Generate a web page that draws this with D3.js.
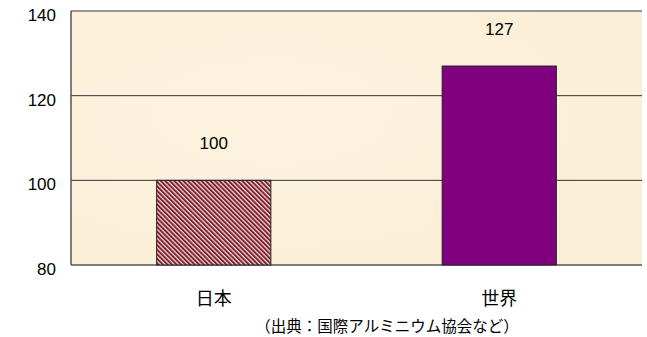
<!DOCTYPE html>
<html>
<head>
<meta charset="utf-8">
<script src="https://cdn.jsdelivr.net/npm/d3@7"></script>
<style>
  body { margin: 0; background: #fff; }
  text { font-family: "Liberation Sans", Arial, "Noto Sans CJK JP", sans-serif; }
  .jp { font-family: "Noto Sans CJK JP", sans-serif; }
</style>
</head>
<body>
<div id="chart"></div>
<script>
// データ
const categories = ['日本', '世界'];
const values = [100, 127];
const yTicks = [80, 100, 120, 140];
const sourceNote = '（出典：国際アルミニウム協会など）';

const W = 647, H = 337;
const margin = { top: 11, right: 5, bottom: 72, left: 71 };
const width = W - margin.left - margin.right;
const height = H - margin.top - margin.bottom;

const root = d3.select('#chart').append('svg')
    .attr('width', W).attr('height', H);

// 斜線パターン（左上→右下）
const defs = root.append('defs');
const pat = defs.append('pattern')
    .attr('id', 'hatch')
    .attr('patternUnits', 'userSpaceOnUse')
    .attr('width', 3.2).attr('height', 6)
    .attr('patternTransform', 'rotate(-45)');
pat.append('rect').attr('width', 3.2).attr('height', 6).attr('fill', '#f2d6d6');
pat.append('rect').attr('width', 1.9).attr('height', 6).attr('fill', '#7b1f2b');

// 背景の淡いムラ
const grad = defs.append('radialGradient').attr('id', 'bg')
    .attr('cx', '35%').attr('cy', '40%').attr('r', '75%');
grad.append('stop').attr('offset', '0%').attr('stop-color', '#fdf3df');
grad.append('stop').attr('offset', '100%').attr('stop-color', '#fbeed6');

const svg = root.append('g')
    .attr('transform', `translate(${margin.left},${margin.top})`);

const x = d3.scaleBand().domain(categories).range([0, width]).paddingInner(0.6).paddingOuter(0.3);
const y = d3.scaleLinear().domain([80, 140]).range([height, 0]);

svg.append('rect')
    .attr('width', width).attr('height', height)
    .attr('fill', 'url(#bg)');

// グリッド
svg.selectAll('.grid')
    .data(yTicks.filter(d => d > 80 && d < 140))
    .join('line')
    .attr('x1', 0).attr('x2', width)
    .attr('y1', d => y(d)).attr('y2', d => y(d))
    .attr('stroke', '#333').attr('stroke-width', 1);

// 枠
svg.append('line').attr('x1', 0).attr('x2', width).attr('y1', 0).attr('y2', 0)
    .attr('stroke', '#777').attr('stroke-width', 1.5);
svg.append('line').attr('x1', 0).attr('x2', width).attr('y1', height).attr('y2', height)
    .attr('stroke', '#555').attr('stroke-width', 1.5);
svg.append('line').attr('x1', 0).attr('x2', 0).attr('y1', 0).attr('y2', height)
    .attr('stroke', '#555').attr('stroke-width', 1.5);

// 棒
svg.selectAll('.bar')
    .data(values)
    .join('rect')
    .attr('x', (d, i) => x(categories[i]))
    .attr('y', d => y(d))
    .attr('width', x.bandwidth())
    .attr('height', d => height - y(d))
    .attr('fill', (d, i) => i === 0 ? 'url(#hatch)' : '#800080')
    .attr('stroke', '#222').attr('stroke-width', 1);

// 値ラベル
svg.selectAll('.val')
    .data(values)
    .join('text')
    .attr('x', (d, i) => x(categories[i]) + x.bandwidth() / 2)
    .attr('y', d => y(d) - 31)
    .attr('text-anchor', 'middle')
    .attr('font-size', '17px').attr('fill', '#000')
    .text(d => d);

// y軸ラベル
svg.selectAll('.ytick')
    .data(yTicks)
    .join('text')
    .attr('x', -15).attr('y', d => y(d) + 10)
    .attr('text-anchor', 'end')
    .attr('font-size', '17px').attr('fill', '#000')
    .text(d => d);

// カテゴリ
svg.selectAll('.cat')
    .data(categories)
    .join('text')
    .attr('class', 'jp')
    .attr('x', d => x(d) + x.bandwidth() / 2)
    .attr('y', height + 40)
    .attr('text-anchor', 'middle')
    .attr('font-size', '18px').attr('fill', '#000')
    .text(d => d);

svg.append('text')
    .attr('class', 'jp')
    .attr('x', 387 - margin.left).attr('y', height + 67)
    .attr('text-anchor', 'middle')
    .attr('font-size', '15.5px').attr('fill', '#000')
    .text(sourceNote);
</script>
</body>
</html>
